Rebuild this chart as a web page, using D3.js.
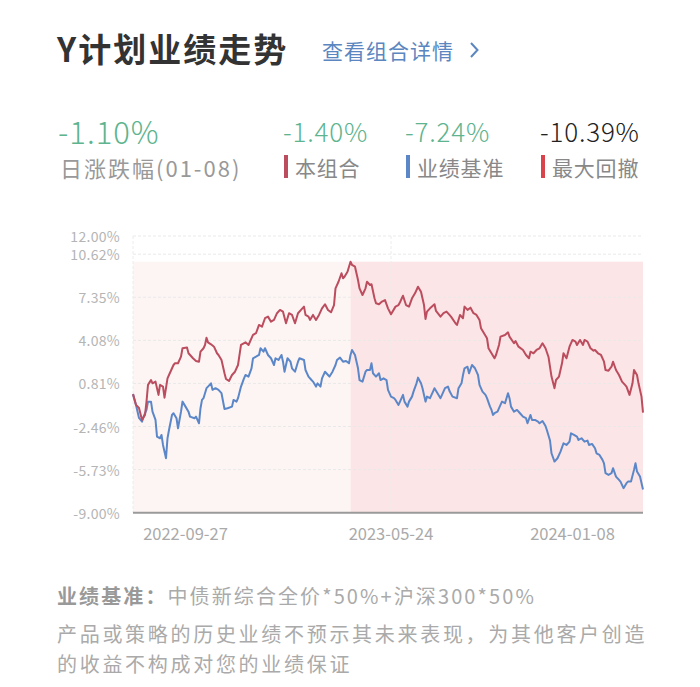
<!DOCTYPE html>
<html><head><meta charset="utf-8">
<script src="https://cdn.jsdelivr.net/npm/d3@7"></script>
<style>
html,body{margin:0;padding:0;background:#fff;}
svg{display:block;font-family:"Noto Sans CJK SC","Noto Sans",sans-serif;}
</style></head>
<body>
<svg id="chart" width="700" height="687"></svg>
<script>
// ---- data ----
const title = "Y计划业绩走势";
const linkText = "查看组合详情";
const dailyChange = "-1.10%";
const dailyLabel = "日涨跌幅(01-08)";
const statValues = ["-1.40%", "-7.24%", "-10.39%"];
const statLabels = ["本组合", "业绩基准", "最大回撤"];
const yTicks = [-9.00, -5.73, -2.46, 0.81, 4.08, 7.35, 10.62, 12.00];
const xTickDays = [35, 172, 293];
const xTickLabels = ["2022-09-27", "2023-05-24", "2024-01-08"];
const lastDay = 340;
// [trading-day index, cumulative return %]
const portfolio = [[0,0],[2,-0.82],[4,-1.05],[6,-1.96],[8,-1.58],[9,-0.57],[10,0.70],[12,1.07],[13,0.82],[15,0.95],[17,-0.06],[18,0.70],[20,0.57],[21,-0.27],[23,1.20],[24,1.45],[27,2.21],[28,2.34],[30,2.34],[32,2.84],[33,3.48],[36,3.53],[37,3.10],[40,2.72],[42,2.52],[44,2.46],[45,3.22],[47,3.48],[48,3.73],[49,4.28],[50,3.93],[52,3.78],[54,3.60],[56,3.10],[57,2.97],[59,2.59],[61,1.58],[62,1.15],[64,1.00],[66,1.45],[68,1.70],[70,2.21],[72,3.73],[75,3.93],[77,3.73],[80,4.49],[82,4.62],[84,5.25],[86,5.12],[88,5.76],[90,5.88],[92,5.50],[94,5.63],[96,6.14],[98,6.39],[100,6.26],[102,5.38],[104,6.14],[106,6.01],[108,5.38],[110,6.14],[112,6.39],[114,6.64],[115,6.01],[117,5.88],[118,5.63],[120,6.01],[122,5.63],[124,6.01],[126,6.51],[128,6.82],[130,6.39],[132,6.21],[134,6.76],[135,8.03],[137,8.53],[139,9.17],[140,8.79],[141,8.91],[143,9.29],[145,10.05],[146,9.80],[148,9.67],[150,8.66],[151,8.03],[153,7.52],[155,8.03],[156,8.53],[158,8.28],[159,8.34],[161,7.27],[162,6.89],[164,6.82],[166,7.02],[168,7.14],[170,6.51],[172,6.06],[175,6.64],[177,6.76],[178,6.97],[180,7.47],[182,6.76],[184,6.64],[186,7.27],[188,7.65],[190,8.15],[192,7.77],[194,6.76],[195,5.70],[196,6.26],[198,6.51],[201,6.82],[202,6.31],[205,5.88],[207,6.14],[209,6.26],[211,6.01],[212,5.88],[215,5.38],[216,5.25],[218,6.01],[220,5.76],[221,6.64],[223,6.39],[225,6.56],[227,6.14],[229,6.01],[231,5.63],[232,5.00],[234,4.62],[236,4.24],[237,3.48],[239,3.10],[241,2.72],[242,2.97],[244,3.73],[245,4.36],[248,4.49],[250,4.69],[251,4.36],[254,3.86],[255,4.03],[257,3.60],[260,3.35],[262,2.97],[264,2.72],[265,3.22],[267,3.10],[269,3.35],[271,3.48],[273,3.86],[275,3.48],[277,2.82],[279,1.33],[281,0.45],[282,1.07],[284,1.33],[286,2.34],[287,3.10],[289,2.72],[291,3.60],[293,4.11],[295,3.98],[296,3.73],[298,4.11],[300,3.73],[301,4.11],[303,3.98],[305,3.48],[307,3.30],[308,3.35],[310,3.10],[312,2.97],[314,2.46],[315,1.83],[317,1.78],[319,2.08],[320,2.46],[322,1.83],[324,1.45],[326,0.95],[328,0.70],[329,0.57],[331,-0.06],[333,0.82],[334,1.83],[336,1.45],[337,0.82],[339,-0.19],[340,-1.40]];
const benchmark = [[0,0],[2,-0.82],[4,-1.81],[6,-2.09],[7,-1.71],[9,-1.20],[10,-0.57],[12,-0.57],[13,-1.33],[15,-1.96],[16,-3.23],[18,-3.35],[19,-3.10],[20,-3.86],[22,-4.87],[23,-3.35],[24,-2.72],[26,-1.58],[27,-1.45],[29,-1.83],[30,-2.59],[32,-1.33],[33,-0.57],[35,-0.95],[37,-1.33],[38,-1.71],[41,-1.83],[42,-1.71],[44,-2.21],[45,-1.07],[46,-0.44],[47,-0.31],[49,0.45],[50,0.57],[52,0.82],[53,0.32],[55,0.45],[57,0.32],[59,0.07],[61,-1.13],[63,-1.07],[66,-0.95],[67,-0.44],[69,-0.57],[70,-0.31],[72,0.57],[74,1.20],[75,1.45],[77,1.33],[79,1.96],[80,2.72],[82,2.84],[84,2.97],[85,3.48],[87,3.22],[88,3.48],[90,2.97],[92,2.72],[94,2.21],[95,2.72],[97,2.59],[99,2.97],[100,2.46],[101,1.70],[103,2.72],[105,2.46],[106,1.96],[108,1.70],[110,2.46],[111,2.72],[114,2.59],[115,1.83],[117,1.33],[119,1.07],[120,0.95],[122,0.57],[123,0.82],[125,0.57],[126,1.20],[128,1.70],[130,1.45],[131,1.33],[133,1.70],[135,2.21],[136,2.59],[138,2.77],[140,2.46],[142,2.52],[144,2.34],[145,2.97],[146,3.35],[148,2.97],[150,1.96],[151,1.07],[153,0.95],[155,1.70],[156,1.83],[158,1.83],[159,2.34],[160,1.58],[162,1.33],[164,1.58],[165,1.07],[167,1.20],[169,1.07],[170,0.32],[172,-0.19],[174,-0.31],[175,-0.44],[177,-0.82],[178,-0.57],[180,-0.06],[181,-0.57],[183,-0.95],[184,-0.57],[186,-0.19],[187,0.19],[189,0.82],[190,1.25],[192,0.82],[193,0.45],[195,-0.57],[196,-0.19],[198,-0.31],[200,0.19],[201,0.45],[203,0.07],[205,-0.31],[206,-0.06],[208,0.45],[210,0.57],[211,0.24],[213,-0.19],[216,-0.31],[217,0.45],[219,0.82],[220,1.45],[221,1.96],[223,2.08],[224,1.58],[226,2.21],[228,1.96],[229,1.70],[230,1.45],[231,0.70],[233,0.19],[235,-0.06],[236,-0.31],[238,-0.95],[239,-1.20],[240,-1.58],[241,-1.45],[243,-1.33],[245,-0.82],[246,-0.57],[248,-0.69],[250,0.07],[251,-0.31],[252,-0.95],[254,-1.33],[256,-1.20],[258,-1.45],[260,-1.71],[262,-1.83],[263,-2.21],[265,-1.58],[266,-1.96],[268,-1.96],[270,-2.09],[271,-2.21],[273,-2.04],[275,-2.42],[276,-2.76],[278,-3.52],[279,-4.49],[281,-5.12],[283,-4.87],[285,-4.37],[287,-3.73],[289,-3.86],[291,-3.61],[292,-2.97],[294,-3.10],[296,-3.23],[297,-3.48],[299,-3.35],[301,-3.61],[303,-3.53],[304,-3.86],[306,-3.78],[308,-4.11],[309,-4.49],[311,-4.62],[313,-4.99],[314,-5.25],[315,-6.00],[317,-6.13],[319,-6.00],[320,-5.62],[322,-6.26],[324,-6.51],[325,-6.64],[327,-7.14],[329,-6.76],[330,-6.64],[332,-6.64],[334,-5.75],[335,-5.25],[336,-5.88],[338,-6.26],[340,-7.24]];
const footerBenchLabel = "业绩基准：";
const footerBenchText = "中债新综合全价*50%+沪深300*50%";
const footerLines = ["产品或策略的历史业绩不预示其未来表现，为其他客户创造", "的收益不构成对您的业绩保证"];

// ---- colors ----
const RED = "#bb4d5e", BLUE = "#5b87c8", GREEN = "#5db48f", DDRED = "#d8434c";

const svg = d3.select("#chart");
svg.append("rect").attr("width", 700).attr("height", 687).attr("fill", "#fff");

// header
svg.append("text").attr("x", 57).attr("y", 48).attr("dominant-baseline", "central")
  .attr("font-size", 33).attr("font-weight", 700).attr("letter-spacing", 2).attr("fill", "#333").text(title);
svg.append("text").attr("x", 322).attr("y", 50).attr("dominant-baseline", "central")
  .attr("font-size", 21).attr("letter-spacing", 1).attr("fill", "#5b86c0").text(linkText);
svg.append("path").attr("d", "M471,43 L477.5,50 L471,57").attr("fill", "none")
  .attr("stroke", "#5b86c0").attr("stroke-width", 2);

// stats
svg.append("text").attr("x", 58).attr("y", 130).attr("dominant-baseline", "central")
  .attr("font-size", 31).attr("font-weight", 300).attr("letter-spacing", 1).attr("fill", GREEN).text(dailyChange);
svg.append("text").attr("x", 60).attr("y", 167).attr("dominant-baseline", "central")
  .attr("font-size", 22).attr("letter-spacing", 2).attr("fill", "#999").text(dailyLabel);
const statX = [283, 405, 540];
const statColors = [GREEN, GREEN, "#222"];
const barColors = [RED, BLUE, DDRED];
statValues.forEach((v, i) => {
  svg.append("text").attr("x", statX[i]).attr("y", 130).attr("dominant-baseline", "central")
    .attr("font-size", 26).attr("font-weight", 300).attr("letter-spacing", 0.8).attr("fill", statColors[i]).text(v);
  svg.append("rect").attr("x", statX[i] + 1).attr("y", 155).attr("width", 4).attr("height", 23).attr("fill", barColors[i]);
  svg.append("text").attr("x", statX[i] + 12).attr("y", 167).attr("dominant-baseline", "central")
    .attr("font-size", 21).attr("letter-spacing", 0.8).attr("fill", "#888").text(statLabels[i]);
});

// chart
const x = d3.scaleLinear().domain([0, lastDay]).range([133, 643]);
const y = d3.scaleLinear().domain([d3.min(yTicks), d3.max(yTicks)]).range([512.7, 236]);

// drawdown shading
const peakIdx = d3.maxIndex(portfolio, d => d[1]);
const after = portfolio.slice(peakIdx);
const trough = after[d3.minIndex(after, d => d[1])];
const peak = portfolio[peakIdx];
svg.append("rect").attr("x", x(0)).attr("y", y(peak[1])).attr("width", x(peak[0]) - x(0))
  .attr("height", y(d3.min(yTicks)) - y(peak[1])).attr("fill", "#fdf5f4");
svg.append("rect").attr("x", x(peak[0])).attr("y", y(peak[1])).attr("width", x(trough[0]) - x(peak[0]))
  .attr("height", y(d3.min(yTicks)) - y(peak[1])).attr("fill", "#fce5e6");

// gridlines
svg.append("g").selectAll("line").data(yTicks.filter(t => t !== d3.min(yTicks))).join("line")
  .attr("x1", x(0)).attr("x2", x(lastDay)).attr("y1", d => y(d)).attr("y2", d => y(d))
  .attr("stroke", "#e9e9e9").attr("stroke-width", 1).attr("stroke-dasharray", "3,2");
svg.append("g").selectAll("line").data([0, xTickDays[1]]).join("line")
  .attr("x1", d => x(d)).attr("x2", d => x(d)).attr("y1", y(d3.max(yTicks))).attr("y2", y(d3.min(yTicks)))
  .attr("stroke", "#ececec").attr("stroke-width", 1).attr("stroke-dasharray", "3,2");

// y labels
svg.append("g").selectAll("text").data(yTicks).join("text")
  .attr("x", 120).attr("y", d => y(d)).attr("text-anchor", "end").attr("dominant-baseline", "central")
  .attr("font-size", 14).attr("letter-spacing", 0.3).attr("fill", "#b5b5b5").text(d => d.toFixed(2) + "%");

// x axis line
svg.append("line").attr("x1", x(0)).attr("x2", x(lastDay)).attr("y1", y(d3.min(yTicks))).attr("y2", y(d3.min(yTicks)))
  .attr("stroke", "#9a9a9a").attr("stroke-width", 2);
svg.append("g").selectAll("text").data(xTickDays).join("text")
  .attr("x", d => x(d)).attr("y", 533).attr("text-anchor", "middle").attr("dominant-baseline", "central")
  .attr("font-size", 16.5).attr("fill", "#aaa").text((d, i) => xTickLabels[i]);

// lines
const line = d3.line().x(d => x(d[0])).y(d => y(d[1]));
svg.append("path").datum(benchmark).attr("d", line).attr("fill", "none").attr("stroke", BLUE)
  .attr("stroke-width", 2).attr("stroke-linejoin", "round");
svg.append("path").datum(portfolio).attr("d", line).attr("fill", "none").attr("stroke", RED)
  .attr("stroke-width", 2).attr("stroke-linejoin", "round");

// footer
const f1 = svg.append("text").attr("x", 57).attr("y", 595).attr("dominant-baseline", "central")
  .attr("font-size", 20).attr("letter-spacing", 2.1);
f1.append("tspan").attr("font-weight", 700).attr("fill", "#999").text(footerBenchLabel);
f1.append("tspan").attr("fill", "#aaa").text(footerBenchText);
svg.append("g").selectAll("text").data(footerLines).join("text")
  .attr("x", 57).attr("y", (d, i) => 633 + i * 30).attr("dominant-baseline", "central")
  .attr("font-size", 20).attr("letter-spacing", 2.7).attr("fill", "#aaa").text(d => d);
</script>
</body></html>
